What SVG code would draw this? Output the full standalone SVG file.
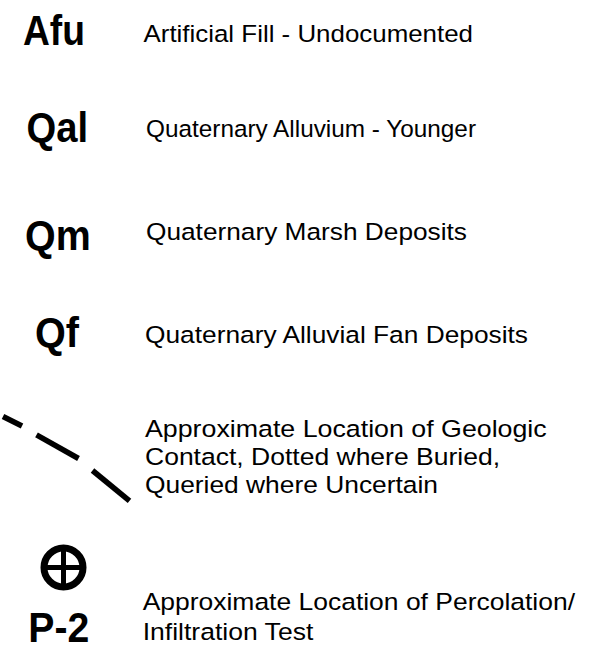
<svg xmlns="http://www.w3.org/2000/svg" width="605" height="666" viewBox="0 0 605 666">
<style>
.sym{font-family:"Liberation Sans",Arial,sans-serif;font-weight:bold;font-size:43px;fill:#000}
.desc{font-family:"Liberation Sans",Arial,sans-serif;font-size:24.5px;fill:#000}
</style>
<rect width="605" height="666" fill="#fff"/>
<g id="afu">
<text class="sym" x="23" y="45" textLength="62" lengthAdjust="spacingAndGlyphs">Afu</text>
<text class="desc" x="143.5" y="41.7" textLength="329.5" lengthAdjust="spacingAndGlyphs">Artificial Fill - Undocumented</text>
</g>
<g id="qal">
<text class="sym" x="26.5" y="141.7" textLength="61.5" lengthAdjust="spacingAndGlyphs">Qal</text>
<text class="desc" x="146" y="137" textLength="330" lengthAdjust="spacingAndGlyphs">Quaternary Alluvium - Younger</text>
</g>
<g id="qm">
<text class="sym" x="25" y="250" textLength="65.7" lengthAdjust="spacingAndGlyphs">Qm</text>
<text class="desc" x="146" y="240" textLength="321" lengthAdjust="spacingAndGlyphs">Quaternary Marsh Deposits</text>
</g>
<g id="qf">
<text class="sym" x="35" y="346.7" textLength="44" lengthAdjust="spacingAndGlyphs">Qf</text>
<text class="desc" x="145" y="343.3" textLength="383" lengthAdjust="spacingAndGlyphs">Quaternary Alluvial Fan Deposits</text>
</g>
<g id="contact">
<g stroke="#000" stroke-width="5.5" fill="none">
<line x1="3" y1="416.5" x2="22" y2="426"/>
<line x1="36.5" y1="434.8" x2="78.5" y2="458.5"/>
<line x1="92.5" y1="470.5" x2="129.5" y2="500.8"/>
</g>
<text class="desc" x="145" y="436.7" textLength="401.7" lengthAdjust="spacingAndGlyphs">Approximate Location of Geologic</text>
<text class="desc" x="145" y="465" textLength="355" lengthAdjust="spacingAndGlyphs">Contact, Dotted where Buried,</text>
<text class="desc" x="145" y="493.3" textLength="293" lengthAdjust="spacingAndGlyphs">Queried where Uncertain</text>
</g>
<g id="p2">
<circle cx="63.5" cy="567.5" r="19.5" stroke="#000" stroke-width="7" fill="none"/>
<line x1="44" y1="567.5" x2="83" y2="567.5" stroke="#000" stroke-width="5"/>
<line x1="63.5" y1="548" x2="63.5" y2="587" stroke="#000" stroke-width="5"/>
<text class="sym" x="28.3" y="641.7" textLength="61" lengthAdjust="spacingAndGlyphs">P-2</text>
<text class="desc" x="142.7" y="610" textLength="432.3" lengthAdjust="spacingAndGlyphs">Approximate Location of Percolation/</text>
<text class="desc" x="142.7" y="640" textLength="170.6" lengthAdjust="spacingAndGlyphs">Infiltration Test</text>
</g>
</svg>
